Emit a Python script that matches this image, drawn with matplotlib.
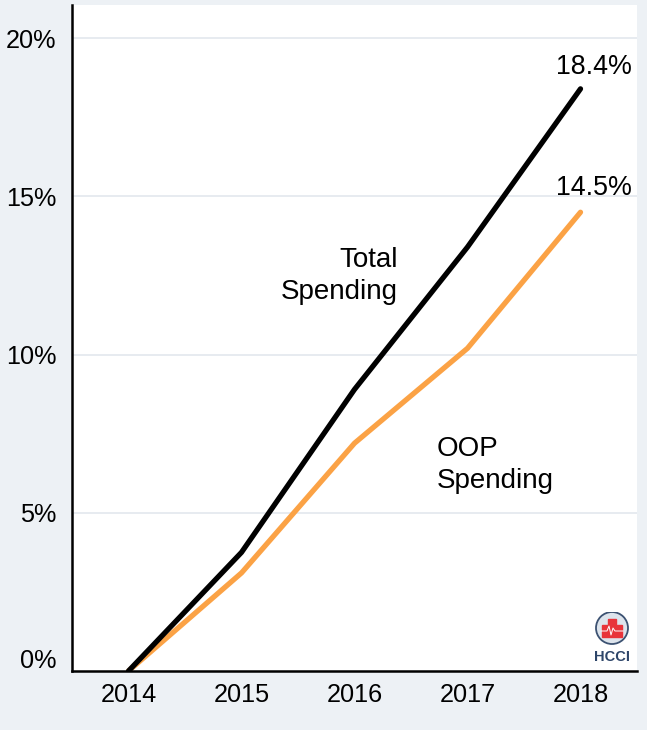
import matplotlib
matplotlib.use('Agg')
import matplotlib.pyplot as plt
import matplotlib.transforms as mtransforms
from matplotlib.patches import Circle, Rectangle
import numpy as np

plt.rcParams['font.family'] = ['Liberation Sans', 'DejaVu Sans']

years = [2014, 2015, 2016, 2017, 2018]
total_spending = [0.0, 3.75, 8.9, 13.4, 18.4]
oop_spending = [0.0, 3.1, 7.2, 10.2, 14.5]
y_ticks = [0, 5, 10, 15, 20]
y_tick_labels = ['0%', '5%', '10%', '15%', '20%']

W, H = 647, 730
fig = plt.figure(figsize=(W / 100, H / 100), dpi=100, facecolor='#edf1f5')
ax = fig.add_axes([72 / W, (H - 671) / H, (637 - 72) / W, (671 - 5) / H])
ax.set_facecolor('white')

ax.plot(years, total_spending, color='black', lw=3.8, solid_capstyle='round', zorder=3)
ax.plot(years, oop_spending, color='#fba245', lw=3.8, solid_capstyle='round', zorder=2)

ax.set_xlim(2013.5, 2018.5)
ax.set_ylim(0, 21.05)
ax.set_xticks(years)
ax.set_xticklabels([str(y) for y in years])
ax.set_yticks(y_ticks)
ax.set_yticklabels(y_tick_labels)
ax.tick_params(axis='both', length=0, labelsize=18.2)
ax.tick_params(axis='x', pad=9)
ax.tick_params(axis='y', pad=11)

# lift the 0% label above the axis line
offset = mtransforms.ScaledTranslation(0, 13 / 100, fig.dpi_scale_trans)
lbl0 = ax.get_yticklabels()[0]
lbl0.set_transform(lbl0.get_transform() + offset)

for y in y_ticks[1:]:
    ax.axhline(y, color='#e3e8ee', lw=1.2, zorder=1)

for side in ['top', 'right']:
    ax.spines[side].set_visible(False)
ax.spines['left'].set_linewidth(1.8)
ax.spines['bottom'].set_linewidth(1.8)

ax.text(years[-1] + 0.12, total_spending[-1] + 0.68, '18.4%', fontsize=19.3, ha='center', va='center')
ax.text(years[-1] + 0.12, oop_spending[-1] + 0.78, '14.5%', fontsize=19.3, ha='center', va='center')
ax.text(2016.38, 12.5, 'Total\nSpending', fontsize=20, ha='right', va='center', linespacing=1.3)
ax.text(2016.73, 6.5, 'OOP\nSpending', fontsize=20, ha='left', va='center', linespacing=1.3)

# HCCI logo
lax = fig.add_axes([590 / W, (H - 668) / H, 44 / W, 56 / H])
lax.set_xlim(0, 44)
lax.set_ylim(0, 56)
lax.axis('off')
lax.add_patch(Circle((22, 40), 16, facecolor='#dde4ec', edgecolor='#3c5272', lw=1.3))
lax.add_patch(Rectangle((12, 31), 20, 12, color='#e8343a'))
lax.add_patch(Rectangle((18, 43), 8, 6, color='#e8343a'))
lax.plot([11, 17, 19, 21, 23, 25, 33], [37, 37, 42, 33, 40, 37, 37], color='white', lw=0.7)
lax.text(22, 11, 'HCCI', fontsize=10.5, fontweight='bold', color='#2d4569', ha='center', va='center')

fig.savefig('out.png', dpi=100, facecolor=fig.get_facecolor())
